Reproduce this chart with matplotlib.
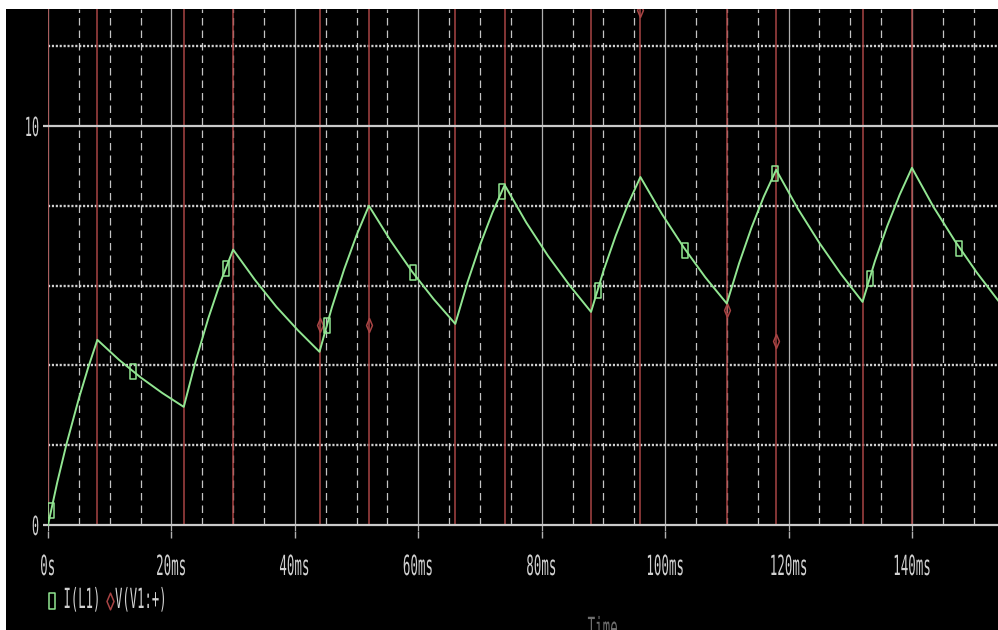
import matplotlib
matplotlib.use("Agg")
import matplotlib.pyplot as plt
from matplotlib.path import Path
from matplotlib.patheffects import AbstractPathEffect
from matplotlib.transforms import Affine2D, blended_transform_factory
from matplotlib.patches import Rectangle
from matplotlib.lines import Line2D

# ---------------- data ----------------
# inductor current I(L1) [A] versus time [ms]
t_ms = [0, 1.5, 3, 5, 6.5, 8, 11.5, 15, 18.5, 22, 24, 26, 28, 30,
        33.5, 37, 40.5, 44, 46, 48, 50, 52, 55.5, 59, 62.5, 66,
        68, 70, 72, 74, 77.5, 81, 84.5, 88, 90, 92, 94, 96,
        99.5, 103, 106.5, 110, 112, 114, 116, 118, 121.5, 125, 128.5, 132,
        134, 136, 138, 140, 143.5, 147, 150.5, 154]
i_L1 = [0.0, 1.07, 2.03, 3.17, 3.94, 4.64, 4.14, 3.70, 3.31, 2.96, 4.15, 5.19, 6.11, 6.90,
        6.15, 5.47, 4.88, 4.34, 5.45, 6.41, 7.26, 8.00, 7.13, 6.35, 5.66, 5.04,
        6.09, 7.01, 7.82, 8.52, 7.58, 6.75, 6.01, 5.34, 6.36, 7.25, 8.04, 8.72,
        7.79, 6.96, 6.21, 5.55, 6.56, 7.45, 8.23, 8.90, 7.93, 7.07, 6.29, 5.59,
        6.61, 7.49, 8.27, 8.95, 7.97, 7.11, 6.33, 5.62]

# marker points on I(L1)
sq_t = [0.5, 13.8, 28.8, 45.2, 59.1, 73.6, 89.1, 103.3, 117.8, 133.2, 147.7]
sq_i = [0.37, 3.85, 6.43, 5.01, 6.33, 8.38, 5.90, 6.90, 8.83, 6.20, 6.95]

# source voltage V(V1:+) : switching instants and levels (high level is off scale)
v_t = [0, 0, 8, 22, 30, 44, 52, 66, 74, 88, 96, 110, 118, 132, 140, 154]
v_val = [0, 24, 0, 24, 0, 24, 0, 24, 0, 24, 0, 24, 0, 24, 0, 0]

# marker points on V(V1:+)
dia_t = [44, 52, 96, 110, 118]
dia_v = [5.0, 5.0, 12.9, 5.4, 4.6]

x_major = [0, 20, 40, 60, 80, 100, 120, 140]
x_labels = ["0s", "20ms", "40ms", "60ms", "80ms", "100ms", "120ms", "140ms"]
x_minor = [5, 10, 15, 25, 30, 35, 45, 50, 55, 65, 70, 75, 85, 90, 95,
           105, 110, 115, 125, 130, 135, 145, 150]
y_solid = [0, 10]
y_labels = ["0", "10"]
y_dotted = [2, 4, 6, 8, 12]

# ---------------- style ----------------
W, H = 998, 630
GREEN = "#92e692"
RED = "#a84444"
GRID = "#c4c4c4"
TEXT = "#d2d2d2"
FONT = "DejaVu Sans Mono"


class Condense(AbstractPathEffect):
    """Squeeze glyphs horizontally to mimic a narrow terminal font."""

    def __init__(self, sx, anchor="center"):
        super().__init__()
        self.sx = sx
        self.anchor = anchor

    def draw_path(self, renderer, gc, tpath, affine, rgbFace=None):
        ext = tpath.get_extents()
        if self.anchor == "left":
            cx = ext.x0
        elif self.anchor == "right":
            cx = ext.x1
        else:
            cx = 0.5 * (ext.x0 + ext.x1)
        pre = Affine2D().translate(-cx, 0).scale(self.sx, 1.0).translate(cx, 0)
        renderer.draw_path(gc, tpath, pre + affine, rgbFace)


def narrow_text(x, y, s, anchor, transform, color=TEXT, size=20, sx=0.45):
    t = fig.text(x, y, s, ha=anchor, va="baseline", transform=transform,
                 color=color, family=FONT, fontsize=size)
    t.set_path_effects([Condense(sx, anchor)])
    return t


rect_marker = Path([(-0.4, -1), (0.4, -1), (0.4, 1), (-0.4, 1), (-0.4, -1)],
                   [Path.MOVETO, Path.LINETO, Path.LINETO, Path.LINETO, Path.CLOSEPOLY])
diamond_marker = Path([(0, -1), (0.42, 0), (0, 1), (-0.42, 0), (0, -1)],
                      [Path.MOVETO, Path.LINETO, Path.LINETO, Path.LINETO, Path.CLOSEPOLY])

fig = plt.figure(figsize=(W / 100, H / 100), dpi=100, facecolor="black")
ax = fig.add_axes([48 / W, (H - 531) / H, (W - 48) / W, 522 / H])
ax.set_facecolor("black")
ax.set_xlim(0, 153.95)
ax.set_ylim(-0.15, 12.93)
for sp in ax.spines.values():
    sp.set_visible(False)

# grid
for x in x_major:
    ax.axvline(x, color="#b0b0b0", lw=0.9, zorder=1)
ax.vlines(x_minor, 0, 12.93, colors=GRID, lw=0.9, linestyles=(0, (6, 4)), zorder=1)
for y in y_dotted:
    ax.axhline(y, color="#d0d0d0", lw=1.7, linestyle=(0, (0.9, 0.75)), zorder=1)

# source voltage
ax.plot(v_t, v_val, drawstyle="steps-post", color=RED, lw=1.1, zorder=2)
ax.plot(dia_t, dia_v, linestyle="none", marker=diamond_marker, ms=10,
        mfc="none", mec=RED, mew=1.1, zorder=2.5)

for y in y_solid:
    ax.axhline(y, color="#cacaca", lw=1.6, zorder=3)

# inductor current
ax.plot(t_ms, i_L1, color=GREEN, lw=1.4, zorder=5)
ax.plot(sq_t, sq_i, linestyle="none", marker=rect_marker, ms=10.8,
        mfc="none", mec=GREEN, mew=1.1, zorder=5)

# ticks
ax.set_xticks(x_major)
ax.set_yticks(y_solid)
ax.tick_params(axis="x", direction="out", length=5, width=1.0, color="#b0b0b0",
               labelbottom=False)
ax.tick_params(axis="y", direction="out", length=3.6, width=1.6, color="#cacaca",
               labelleft=False)

# tick labels
xt = blended_transform_factory(ax.transData, fig.transFigure)
for x, lab in zip(x_major, x_labels):
    narrow_text(x, (H - 575) / H, lab, "center", xt)

for y, lab in zip(y_solid, y_labels):
    py = 525 - y * 39.9 + 10  # baseline in pixels from top
    narrow_text(40 / W, (H - py) / H, lab, "right", fig.transFigure, size=19)

# legend: symbols drawn as markers, names in one line of text
fig.add_artist(Line2D([51.5 / W], [(H - 601) / H], transform=fig.transFigure,
                      linestyle="none", marker=rect_marker, ms=12, mfc="none",
                      mec=GREEN, mew=1.1))
fig.add_artist(Line2D([109.5 / W], [(H - 601) / H], transform=fig.transFigure,
                      linestyle="none", marker=diamond_marker, ms=12, mfc="none",
                      mec=RED, mew=1.1))
narrow_text(62 / W, (H - 608) / H, "I(L1)  V(V1:+)", "left", fig.transFigure, sx=0.44)

# axis title, partly below the bottom edge
narrow_text(603 / W, -7 / H, "Time", "center", fig.transFigure, color="#6e6e6e")

# white margins at top and left
fig.add_artist(Rectangle((0, (H - 9) / H), 1, 9 / H, transform=fig.transFigure,
                         facecolor="white", edgecolor="none", zorder=10))
fig.add_artist(Rectangle((0, 0), 6 / W, 1, transform=fig.transFigure,
                         facecolor="white", edgecolor="none", zorder=10))

fig.savefig("out.png", dpi=100, facecolor="black")
